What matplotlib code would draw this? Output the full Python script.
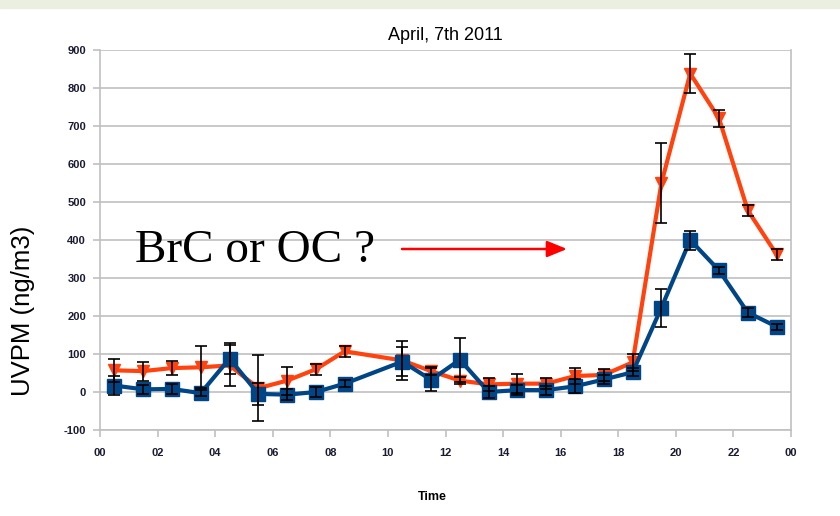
import matplotlib
matplotlib.use("Agg")
import matplotlib.pyplot as plt
import numpy as np

plt.rcParams["axes.unicode_minus"] = False

# Data (hours, half-hour centred)
hours = [0.5, 1.5, 2.5, 3.5, 4.5, 5.5, 6.5, 7.5, 8.5, 10.5, 11.5, 12.5,
         13.5, 14.5, 15.5, 16.5, 17.5, 18.5, 19.5, 20.5, 21.5, 22.5, 23.5]
red_vals = [57, 55, 63, 65, 70, 10, 30, 60, 107, 83, 55, 30,
            20, 22, 22, 42, 45, 78, 550, 838, 720, 478, 362]
red_err = [30, 25, 18, 55, 55, 87, 37, 15, 15, 52, 10, 10,
           18, 25, 15, 20, 15, 22, 105, 52, 23, 15, 15]
blue_vals = [17, 7, 8, -3, 88, -5, -7, 0, 22, 80, 32, 85,
             0, 5, 5, 15, 33, 52, 222, 400, 320, 209, 172]
blue_err = [26, 12, 12, 8, 40, 30, 15, 12, 10, 38, 30, 58,
            17, 14, 12, 18, 12, 10, 50, 25, 10, 12, 8]
xtick_vals = list(range(0, 25, 2))
xtick_labels = ["00", "02", "04", "06", "08", "10", "12", "14", "16", "18", "20", "22", "00"]
ytick_vals = list(range(-100, 1000, 100))

RED = "#ff420e"
BLUE = "#004586"
GRID = "#c0c0c0"

fig = plt.figure(figsize=(8.4, 5.16), dpi=100)
fig.patches.append(plt.Rectangle((0, 1 - 8 / 516), 1, 8 / 516, transform=fig.transFigure,
                                 color="#ebefe0", zorder=0))
ax = fig.add_axes([100 / 840, 1 - 430 / 516, (791 - 100) / 840, (430 - 50) / 516])

ax.plot(hours, red_vals, color=RED, lw=3, marker="v", ms=9, zorder=3)
ax.plot(hours, blue_vals, color=BLUE, lw=3, marker="s", ms=9.5, zorder=4)
ax.errorbar(hours, red_vals, yerr=red_err, fmt="none", ecolor="black", elinewidth=1.2,
            capsize=4, capthick=1.2, zorder=5)
ax.errorbar(hours, blue_vals, yerr=blue_err, fmt="none", ecolor="black", elinewidth=1.2,
            capsize=4, capthick=1.2, zorder=5)

ax.set_xlim(0, 24)
ax.set_ylim(-100, 900)
ax.set_xticks(xtick_vals)
ax.set_xticklabels(xtick_labels)
ax.set_yticks(ytick_vals)
ax.grid(axis="y", color=GRID, lw=1.2)
ax.set_axisbelow(True)
ax.spines["top"].set_visible(False)
for s in ["left", "right", "bottom"]:
    ax.spines[s].set_color(GRID)
    ax.spines[s].set_linewidth(1.2)
ax.tick_params(axis="both", colors=GRID, length=5, width=1.2, labelsize=8,
               labelcolor="#1a1a33", pad=5)
ax.tick_params(axis="x", pad=8)
for lab in ax.get_xticklabels() + ax.get_yticklabels():
    lab.set_fontweight("bold")
    lab.set_family("Liberation Sans")

ax.set_title("April, 7th 2011", fontsize=13, family="Liberation Sans", pad=7)
fig.text(432 / 840, 1 - 497 / 516, "Time", fontsize=9, fontweight="bold",
         family="Liberation Sans", ha="center", va="center")
fig.text(23 / 840, 1 - 311 / 516, "UVPM (ng/m3)", rotation=90, fontsize=18.5,
         family="Liberation Sans", ha="center", va="center")

fig.text(135 / 840, 1 - 262 / 516, "BrC or OC ?", fontsize=34, family="Liberation Serif",
         ha="left", va="baseline")
fig.add_artist(matplotlib.patches.FancyArrowPatch((402 / 840, 1 - 249 / 516), (567 / 840, 1 - 249 / 516),
                                                  transform=fig.transFigure, arrowstyle="-|>,head_length=1.1,head_width=0.45",
                                                  mutation_scale=11, color="#ff0000", lw=1.8,
                                                  shrinkA=0, shrinkB=0))

fig.savefig("out.png", dpi=100)
